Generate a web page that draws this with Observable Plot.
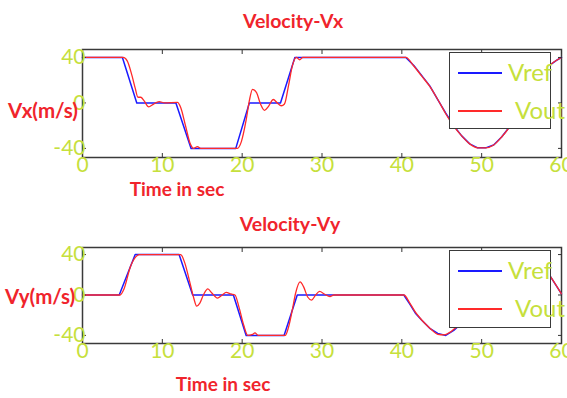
<!DOCTYPE html>
<html>
<head>
<meta charset="utf-8">
<script src="https://cdn.jsdelivr.net/npm/d3@7"></script>
<script src="https://cdn.jsdelivr.net/npm/@observablehq/plot@0.6"></script>
<style>
  html, body { margin: 0; padding: 0; background: #fff; }
  #wrap { position: relative; width: 567px; height: 398px; overflow: hidden; font-family: Lato, "Open Sans", sans-serif; }
  .abs { position: absolute; white-space: nowrap; line-height: 1; }
  .title { color: #f0242c; font-weight: 700; font-size: 19.5px; }
  .lab { color: #f0242c; font-weight: 700; font-size: 19px; }
  .ylab { color: #f0242c; font-weight: 700; font-size: 20.5px; }
  .legend { position: absolute; box-sizing: border-box; border: 1.5px solid #3a3a3a; background: #fff; overflow: visible; }
  .legend .sw { position: absolute; height: 2px; width: 44px; left: 8px; }
  .legend .tx { position: absolute; color: #c6e03c; font-size: 24px; line-height: 1; }
  .plot { position: absolute; left: 0; }
</style>
</head>
<body>
<div id="wrap"></div>
<script>
// ---- data ----
const xTicks = [0, 10, 20, 30, 40, 50, 60];
const yTicks = [-40, 0, 40];
const seriesNames = ["Vref", "Vout"];
const titles = ["Velocity-Vx", "Velocity-Vy"];
const yLabels = ["Vx(m/s)", "Vy(m/s)"];
const xLabel = "Time in sec";

// Vx reference
const vxRefT = [0, 5, 6.8, 11.7, 13.6, 19.2, 20.9, 24.8, 26.6, 40.5, 41.5, 42.5, 43.5, 44.5, 45.5, 46.5, 47.5, 48.5, 49.5, 50.5, 51.5, 52.5, 53.5, 54.5, 55.5, 56.5, 57.5, 58.5, 59.5, 60];
const vxRefV = [40, 40, 0, 0, -40, -40, 0, 0, 40, 40, 33, 24, 15, 3, -9, -20, -29, -36, -39.5, -39.5, -37, -30, -21, -10, 2, 14, 25, 33, 38, 40];
// Vx output
const vxOutT = [0, 5.1, 5.6, 6.2, 6.6, 6.95, 7.3, 7.7, 8.3, 8.8, 9.6, 10.3, 11.9, 12.3, 12.9, 13.5, 13.9, 14.4, 14.8, 19.4, 19.9, 20.5, 20.9, 21.3, 21.8, 22.3, 22.8, 23.3, 23.9, 24.4, 24.9, 25.3, 25.8, 26.3, 26.8, 27.2, 27.6, 40.5, 41.5, 42.5, 43.5, 44.5, 45.5, 46.5, 47.5, 48.5, 49.5, 50.5, 51.5, 52.5, 53.5, 54.5, 55.5, 56.5, 57.5, 58.5, 59.5, 60];
const vxOutV = [40, 40, 37, 24, 13, 5, 5, 2, -3.5, -1.5, 1.2, 0, 0.5, -4, -20, -36, -40, -38.5, -40, -40, -34, -15, 2, 12, 9, -1, -6.5, -3, 3, 0, -2.5, -1, 15, 33, 40, 38, 40, 40, 32.5, 23.5, 14.5, 3, -9.5, -20.5, -29, -36, -39.5, -39.5, -37, -30, -21, -10, 2, 14, 25, 33, 38, 40];

// Vy reference
const vyRefT = [0, 4.6, 6.6, 12.1, 13.8, 18.9, 20.5, 25.25, 26.9, 40.25, 41, 41.7, 42.5, 43.5, 44.5, 45.5, 46.5, 47.5, 48.5, 49.5, 50.5, 51.5, 52.5, 53.5, 54.5, 55.5, 56.5, 57.5, 58.6, 59.8, 60];
const vyRefV = [0, 0, 40, 40, 0, 0, -40, -40, 0, 0, -9, -18, -25, -33, -38, -40, -35, -28, -19, -7, 6, 17, 27, 34, 39, 40, 37, 30, 18.5, 3.6, 1];
// Vy output
const vyOutT = [0, 4.7, 5.2, 6, 6.7, 7.1, 12.3, 12.8, 13.4, 13.9, 14.3, 14.7, 15.2, 15.7, 16.2, 16.9, 17.5, 18, 18.6, 19.1, 19.6, 20.2, 20.7, 21.3, 21.6, 22, 25.4, 25.8, 26.3, 26.7, 27.25, 27.7, 28.2, 28.7, 29.2, 29.7, 30.3, 31, 31.5, 40.25, 41, 41.7, 42.3, 43, 43.8, 44.5, 45.3, 46, 46.5, 47.5, 48.5, 49.5, 50.5, 51.5, 52.5, 53.5, 54.5, 55.5, 56.5, 57.5, 58.6, 59.8, 60];
const vyOutV = [0, 0, 6, 28, 38, 40, 40, 32, 14, -2, -11, -8, 1, 6, 2, -3, 0, 2.5, 1, 0, -12, -30, -40, -39, -37.5, -40, -40, -32, -14, 2, 13, 8, -2, -5, 0, 3.5, 1, -1.5, 0, 0, -8, -17, -23, -29, -35, -39, -39.5, -37, -34, -28, -19, -7, 6, 17, 27, 34, 39, 40, 37, 30, 18.5, 3.6, 1];

// ---- build ----
const refColor = "#1a1aff";
const outColor = "#ff2a2a";
const tickColor = "#c6e03c";
const wrap = document.getElementById("wrap");

function pairs(T, V) { return T.map((t, i) => ({t, v: V[i]})); }

function makePlot(ref, out, cfg) {
  const p = Plot.plot({
    width: 567, height: cfg.height,
    marginLeft: 82, marginRight: 6, marginTop: cfg.mt, marginBottom: cfg.mb,
    x: {domain: [0, 60]},
    y: {domain: [-48, 47]},
    style: {background: "transparent", overflow: "visible", fontFamily: "Lato, 'Open Sans', sans-serif"},
    marks: [
      Plot.frame({stroke: "#3a3a3a", strokeWidth: 1.5}),
      Plot.line(ref, {x: "t", y: "v", stroke: refColor, strokeWidth: 1.5}),
      Plot.line(out, {x: "t", y: "v", stroke: outColor, strokeWidth: 1.3, curve: "monotone-x"}),
      Plot.axisX({anchor: "bottom", ticks: xTicks, tickSize: 4, dy: -4, stroke: "#333", tickFormat: () => "", label: null}),
      Plot.axisX({anchor: "top", ticks: xTicks, tickSize: 4, dy: 4, stroke: "#333", tickFormat: () => "", label: null}),
      Plot.axisY({anchor: "left", ticks: yTicks, tickSize: 4, dx: 4, stroke: "#333", tickFormat: () => "", label: null}),
      Plot.axisY({anchor: "right", ticks: yTicks, tickSize: 4, dx: -4, stroke: "#333", tickFormat: () => "", label: null}),
      Plot.axisX({anchor: "bottom", ticks: xTicks, tickSize: 0, tickPadding: 0, fill: tickColor, fontSize: 21, tickFormat: d => String(d), label: null}),
      Plot.axisY({anchor: "left", ticks: yTicks, tickSize: 0, tickPadding: -3, fill: tickColor, fontSize: 21, tickFormat: d => String(d), label: null})
    ]
  });
  p.classList.add("plot");
  p.style.top = cfg.top + "px";
  wrap.appendChild(p);
}

function addText(txt, cls, left, top, center) {
  const d = document.createElement("div");
  d.className = "abs " + cls;
  d.textContent = txt;
  d.style.top = top + "px";
  d.style.left = left + "px";
  if (center) d.style.transform = "translateX(-50%)";
  wrap.appendChild(d);
}

function addLegend(left, top, h) {
  const lg = document.createElement("div");
  lg.className = "legend";
  lg.style.left = left + "px"; lg.style.top = top + "px";
  lg.style.width = "102px"; lg.style.height = h + "px";
  const colors = [refColor, outColor];
  const swY = [19, 57];
  const txX = [58, 65];
  seriesNames.forEach((n, i) => {
    const s = document.createElement("div");
    s.className = "sw"; s.style.top = swY[i] + "px"; s.style.background = colors[i];
    lg.appendChild(s);
    const t = document.createElement("div");
    t.className = "tx"; t.textContent = n;
    t.style.left = txX[i] + "px"; t.style.top = (swY[i] - 12) + "px";
    lg.appendChild(t);
  });
  wrap.appendChild(lg);
}

makePlot(pairs(vxRefT, vxRefV), pairs(vxOutT, vxOutV), {top: 0, height: 200, mt: 49, mb: 43});
makePlot(pairs(vyRefT, vyRefV), pairs(vyOutT, vyOutV), {top: 200, height: 198, mt: 47, mb: 55});

addText(titles[0], "title", 293, 11, true);
addText(titles[1], "title", 290, 214, true);
addText(yLabels[0], "ylab", 8, 100, false);
addText(yLabels[1], "ylab", 5, 286, false);
addText(xLabel, "lab", 177, 179, true);
addText(xLabel, "lab", 223, 374, true);

addLegend(449, 52, 77);
addLegend(449, 250, 78);
</script>
</body>
</html>
